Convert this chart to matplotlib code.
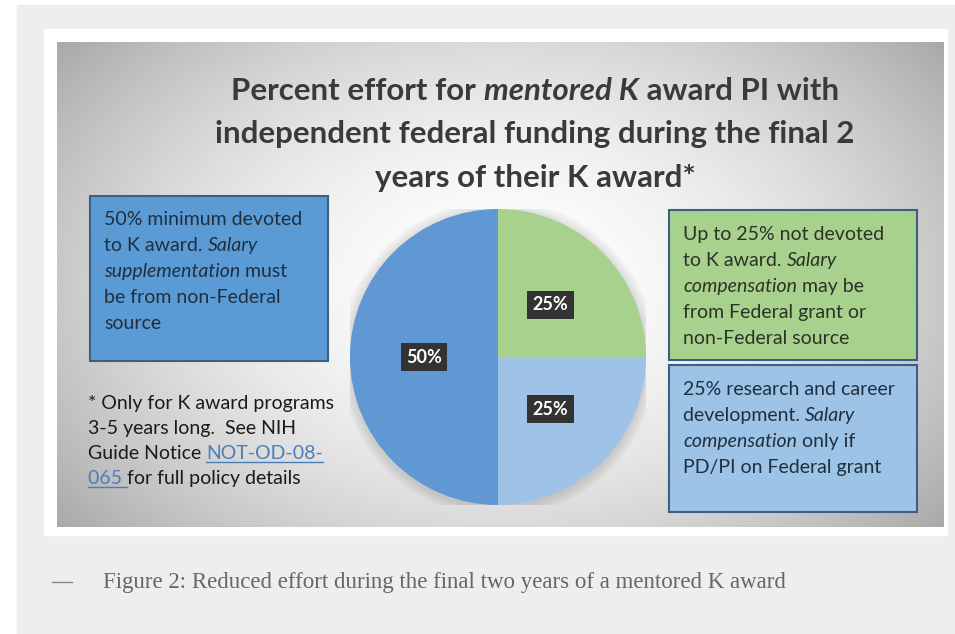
import matplotlib.pyplot as plt
from matplotlib.patches import Rectangle, Circle
import numpy as np

plt.rcParams['font.family'] = ['Lato', 'DejaVu Sans']

# pie data
slice_labels = ['K award (minimum)', 'Research and career development', 'Not devoted to K award']
slice_values = [50, 25, 25]
slice_colors = ['#5f98d2', '#9fc2e7', '#a9d18e']

title_lines = [
    [('Percent effort for ', 'normal'), ('mentored K', 'italic'), (' award PI with', 'normal')],
    [('independent federal funding during the final 2', 'normal')],
    [('years of their K award*', 'normal')],
]

left_box_lines = [
    [('50% minimum devoted', 'normal')],
    [('to K award. ', 'normal'), ('Salary', 'italic')],
    [('supplementation', 'italic'), (' must', 'normal')],
    [('be from non-Federal', 'normal')],
    [('source', 'normal')],
]
green_box_lines = [
    [('Up to 25% not devoted', 'normal')],
    [('to K award. ', 'normal'), ('Salary', 'italic')],
    [('compensation', 'italic'), (' may be', 'normal')],
    [('from Federal grant or', 'normal')],
    [('non-Federal source', 'normal')],
]
blue_box_lines = [
    [('25% research and career', 'normal')],
    [('development. ', 'normal'), ('Salary', 'italic')],
    [('compensation', 'italic'), (' only if', 'normal')],
    [('PD/PI on Federal grant', 'normal')],
]
note_lines = [
    [('* Only for K award programs', 'normal')],
    [('3-5 years long.  See NIH', 'normal')],
    [('Guide Notice ', 'normal'), ('NOT-OD-08-', 'link')],
    [('065 ', 'link'), ('for full policy details', 'normal')],
]
caption = 'Figure 2: Reduced effort during the final two years of a mentored K award'

W, H = 955, 634
fig = plt.figure(figsize=(W / 100, H / 100), dpi=100)
fig.patch.set_facecolor('white')
ax = fig.add_axes([0, 0, 1, 1])
ax.axis('off')

# page background, white card, gradient slide
ax.add_patch(Rectangle((17, 5), W - 17, H - 5, color='#eeeeee', zorder=0))
ax.add_patch(Rectangle((44, 29), 903, 506, color='white', zorder=1))
sx0, sy0, sx1, sy1 = 57, 42, 943, 527
gx, gy = np.meshgrid(np.linspace(-1, 1, 400), np.linspace(-1, 1, 250))
d = np.clip(np.sqrt(gx ** 2 * 0.85 + gy ** 2 * 0.55), 0, 1.2)
shade = 1 - 0.25 * d ** 1.8
img = np.dstack([shade, shade, shade])
ax.imshow(img, extent=(sx0, sx1, sy1, sy0), aspect='auto', zorder=2,
          interpolation='bilinear')
ax.set_xlim(0, W)
ax.set_ylim(H, 0)

renderer = fig.canvas.get_renderer()


def text_width(s, **kw):
    # measure including leading/trailing spaces
    t1 = ax.text(0, 0, 'x' + s + 'x', **kw)
    t2 = ax.text(0, 0, 'xx', **kw)
    w = t1.get_window_extent(renderer).width - t2.get_window_extent(renderer).width
    t1.remove()
    t2.remove()
    return w


def rich_line(x, y, runs, size, color, weight='normal', center=False, link='#4a7ebb'):
    styles = []
    for s, st in runs:
        kw = dict(fontsize=size, fontweight=weight,
                  fontstyle='italic' if st == 'italic' else 'normal',
                  color=link if st == 'link' else color)
        styles.append((s, st, kw, text_width(s, **kw)))
    total = sum(w for _, _, _, w in styles)
    if center:
        x = x - total / 2
    for s, st, kw, w in styles:
        ax.text(x, y, s, va='baseline', ha='left', zorder=6, **kw)
        if st == 'link':
            ax.plot([x, x + w], [y + 3, y + 3], color=link, lw=1, zorder=6)
        x += w


for i, line in enumerate(title_lines):
    rich_line(535, 100 + i * 43.5, line, 22.5, '#3a3a3a', weight='bold', center=True)

# text boxes
boxes = [
    (90, 196, 238, 165, '#5b9bd5', left_box_lines, '#1f2f40', 225),
    (669, 210, 248, 150, '#a9d18e', green_box_lines, '#2a3326', 240),
    (669, 365, 248, 147, '#9dc3e6', blue_box_lines, '#1f2f40', 395),
]
for bx, by, bw, bh, fc, lines, tc, base in boxes:
    ax.add_patch(Rectangle((bx, by), bw, bh, facecolor=fc, edgecolor='#3e5f82',
                           lw=1.5, zorder=4))
    for i, line in enumerate(lines):
        rich_line(bx + 14, base + i * 26, line, 14, tc)

for i, line in enumerate(note_lines):
    rich_line(88, 409 + i * 25, line, 14, '#1a1a1a')

# caption
ax.plot([52, 72], [582, 582], color='#888888', lw=1, zorder=6)
ax.text(103, 588, caption, fontsize=16.5, family='Liberation Serif', color='#666666',
        va='baseline', ha='left', zorder=6)

# pie
cx, cy, r = 498, 357, 148
pax = fig.add_axes([(cx - r) / W, 1 - (cy + r) / H, 2 * r / W, 2 * r / H])
pax.set_zorder(5)
# faint shadow behind the pie
for k in range(6):
    pax.add_patch(Circle((0.0, -0.01), 1 + 0.012 * (k + 1), color='black',
                         alpha=0.018, lw=0, zorder=0))
wedges, _, autotexts = pax.pie(slice_values, colors=slice_colors, startangle=90,
                               counterclock=True, autopct='%d%%', pctdistance=0.5,
                               wedgeprops=dict(linewidth=0, zorder=1))
for t in autotexts:
    t.set_color('white')
    t.set_fontweight('bold')
    t.set_fontsize(13)
    t.set_zorder(3)
    t.set_bbox(dict(boxstyle='square,pad=0.3', facecolor='#333333', edgecolor='none'))
pax.set_xlim(-1, 1)
pax.set_ylim(-1, 1)
pax.set_aspect('equal')
pax.axis('off')
pax.patch.set_alpha(0)

fig.savefig('out.png', dpi=100)
